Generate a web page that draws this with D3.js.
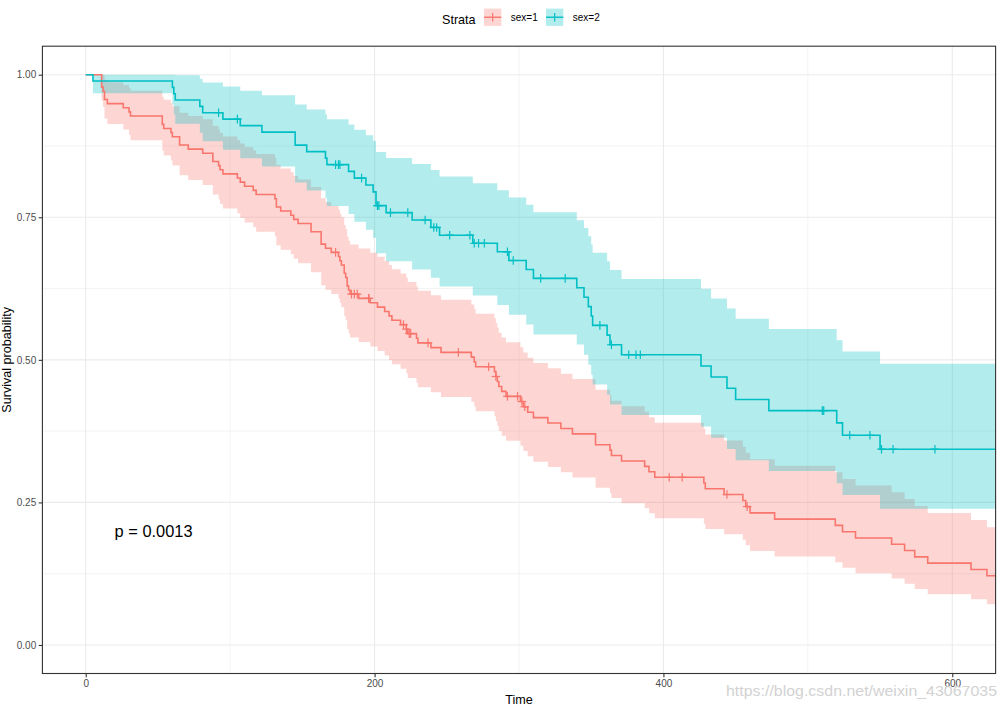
<!DOCTYPE html>
<html>
<head>
<meta charset="utf-8">
<script src="https://cdn.jsdelivr.net/npm/d3@7"></script>
<style>
  html, body { margin: 0; padding: 0; background: #fff; }
  svg { display: block; font-family: "Liberation Sans", Arial, sans-serif; }
</style>
</head>
<body>
<svg id="chart" width="1002" height="708"></svg>
<script>
// ---------- data (Kaplan-Meier estimates) ----------
const strata = ["sex=1", "sex=2"];
const colors = ["#F8766D", "#00BFC4"];

const time1 = [0, 11,12,13,15,26,30,31,53,54,59,60,65,71,81,88,92,93,95,105,107,110,116,118,131,132,135,142,144,147,156,163,166,170,175,176,177,179,180,181,182,183,189,197,202,207,210,212,218,222,223,229,230,239,246,267,269,270,283,284,285,286,288,291,301,303,306,310,320,329,337,353,363,364,371,387,390,394,428,429,442,455,457,460,477,519,524,533,558,567,574,583,613,624,643];
const surv1 = [1, 0.9783,0.9710,0.9565,0.9493,0.9420,0.9348,0.9275,0.9130,0.9058,0.8986,0.8913,0.8768,0.8696,0.8623,0.8478,0.8406,0.8333,0.8261,0.8188,0.8116,0.8043,0.7971,0.7899,0.7826,0.7681,0.7609,0.7536,0.7464,0.7391,0.7246,0.7029,0.6957,0.6884,0.6811,0.6738,0.6664,0.6518,0.6445,0.6298,0.6225,0.6152,0.6078,0.6002,0.5925,0.5848,0.5771,0.5694,0.5617,0.5539,0.5460,0.5378,0.5297,0.5214,0.5131,0.5047,0.4963,0.4879,0.4794,0.4708,0.4621,0.4534,0.4447,0.4360,0.4269,0.4177,0.4082,0.3987,0.3892,0.3797,0.3702,0.3512,0.3417,0.3322,0.3227,0.3132,0.3037,0.2942,0.2840,0.2739,0.2638,0.2533,0.2427,0.2317,0.2207,0.2097,0.1986,0.1876,0.1766,0.1656,0.1545,0.1435,0.1325,0.1214,0.1104];
const lower1 = [1, 0.9543,0.9434,0.9231,0.9134,0.9038,0.8945,0.8852,0.8672,0.8584,0.8496,0.8409,0.8237,0.8152,0.8067,0.7899,0.7817,0.7734,0.7652,0.7570,0.7489,0.7408,0.7328,0.7248,0.7167,0.7008,0.6930,0.6850,0.6772,0.6694,0.6538,0.6306,0.6230,0.6153,0.6076,0.5999,0.5922,0.5769,0.5693,0.5541,0.5466,0.5390,0.5314,0.5236,0.5157,0.5078,0.4999,0.4921,0.4843,0.4763,0.4683,0.4600,0.4518,0.4434,0.4350,0.4265,0.4181,0.4097,0.4012,0.3926,0.3840,0.3753,0.3667,0.3582,0.3492,0.3401,0.3308,0.3215,0.3122,0.3030,0.2938,0.2756,0.2666,0.2576,0.2487,0.2398,0.2310,0.2222,0.2127,0.2034,0.1941,0.1845,0.1749,0.1649,0.1550,0.1452,0.1355,0.1259,0.1165,0.1072,0.0980,0.0890,0.0801,0.0714,0.0629];
const upper1 = [1, 1,0.9994,0.9911,0.9866,0.9818,0.9769,0.9718,0.9612,0.9559,0.9504,0.9448,0.9334,0.9277,0.9218,0.9099,0.9040,0.8979,0.8918,0.8857,0.8795,0.8733,0.8671,0.8609,0.8545,0.8418,0.8355,0.8290,0.8226,0.8161,0.8031,0.7834,0.7769,0.7702,0.7635,0.7568,0.7499,0.7364,0.7296,0.7159,0.7090,0.7021,0.6952,0.6880,0.6808,0.6735,0.6662,0.6589,0.6515,0.6441,0.6366,0.6288,0.6211,0.6132,0.6052,0.5972,0.5891,0.5810,0.5729,0.5645,0.5561,0.5477,0.5392,0.5307,0.5219,0.5130,0.5038,0.4945,0.4852,0.4758,0.4665,0.4475,0.4380,0.4284,0.4188,0.4091,0.3994,0.3896,0.3792,0.3689,0.3585,0.3478,0.3369,0.3256,0.3143,0.3028,0.2911,0.2795,0.2677,0.2558,0.2436,0.2314,0.2191,0.2065,0.1939];
const censor1 = [173,184,186,188,196,196,220,222,224,225,237,258,279,284,292,299,302,304,404,413,444,458];

const time2 = [0, 5,60,61,62,79,81,95,107,122,145,153,166,167,182,186,194,199,201,208,226,239,245,268,285,293,305,310,340,345,348,350,351,361,363,371,426,433,444,450,473,520,524,550,641];
const surv2 = [1, 0.9889,0.9778,0.9667,0.9556,0.9444,0.9333,0.9221,0.9107,0.8993,0.8766,0.8652,0.8538,0.8424,0.8305,0.8187,0.8066,0.7946,0.7705,0.7581,0.7452,0.7322,0.7186,0.7045,0.6895,0.6742,0.6585,0.6428,0.6264,0.6099,0.5934,0.5769,0.5604,0.5434,0.5265,0.5089,0.4893,0.4698,0.4502,0.4306,0.4110,0.3894,0.3678,0.3433,0.3121];
const lower2 = [1, 0.9675,0.9478,0.9303,0.9140,0.8982,0.8832,0.8683,0.8535,0.8390,0.8109,0.7970,0.7834,0.7699,0.7558,0.7420,0.7280,0.7142,0.6869,0.6729,0.6584,0.6438,0.6287,0.6129,0.5961,0.5791,0.5618,0.5446,0.5267,0.5089,0.4913,0.4739,0.4566,0.4389,0.4215,0.4035,0.3832,0.3632,0.3435,0.3241,0.3050,0.2837,0.2629,0.2390,0.2076];
const upper2 = [1, 1,1,1,0.9991,0.9929,0.9863,0.9792,0.9717,0.9639,0.9477,0.9392,0.9305,0.9217,0.9125,0.9033,0.8937,0.8841,0.8643,0.8541,0.8435,0.8327,0.8214,0.8098,0.7975,0.7849,0.7719,0.7587,0.7450,0.7310,0.7168,0.7024,0.6878,0.6727,0.6576,0.6419,0.6248,0.6076,0.5900,0.5721,0.5539,0.5345,0.5146,0.4931,0.4691];
const censor2 = [92,105,173,175,176,191,202,203,211,223,235,241,243,252,266,269,272,276,292,296,315,332,356,364,376,381,384,510,511,529,543,551,559,588];

const lastTime = [1022, 965];

const xTicks = [0, 200, 400, 600];
const xMinor = [100, 300, 500];
const yTicks = [0, 0.25, 0.5, 0.75, 1];
const yMinor = [0.125, 0.375, 0.625, 0.875];
const pLabel = "p = 0.0013";
const pPos = [20, 0.2];
const watermark = "https://blog.csdn.net/weixin_43067035";

// ---------- layout ----------
const svg = d3.select("#chart");
const x = d3.scaleLinear().domain([-30, 630]).range([42.4, 995.6]);
const y = d3.scaleLinear().domain([-0.05, 1.05]).range([673.5, 46.2]);
const [px0, px1] = x.range();
const [py1, py0] = y.range();

svg.append("defs").append("clipPath").attr("id", "panel")
  .append("rect").attr("x", px0).attr("y", py0).attr("width", px1 - px0).attr("height", py1 - py0);

// grid
const grid = svg.append("g");
grid.selectAll(".xmin").data(xMinor).join("line")
  .attr("x1", d => x(d)).attr("x2", d => x(d)).attr("y1", py0).attr("y2", py1)
  .attr("stroke", "#EBEBEB").attr("stroke-width", 0.6);
grid.selectAll(".ymin").data(yMinor).join("line")
  .attr("y1", d => y(d)).attr("y2", d => y(d)).attr("x1", px0).attr("x2", px1)
  .attr("stroke", "#EBEBEB").attr("stroke-width", 0.6);
grid.selectAll(".xmaj").data(xTicks).join("line")
  .attr("x1", d => x(d)).attr("x2", d => x(d)).attr("y1", py0).attr("y2", py1)
  .attr("stroke", "#EBEBEB").attr("stroke-width", 1.1);
grid.selectAll(".ymaj").data(yTicks).join("line")
  .attr("y1", d => y(d)).attr("y2", d => y(d)).attr("x1", px0).attr("x2", px1)
  .attr("stroke", "#EBEBEB").attr("stroke-width", 1.1);

// series
const series = [
  { t: time1, s: surv1, lo: lower1, up: upper1, c: censor1, end: lastTime[0], col: colors[0] },
  { t: time2, s: surv2, lo: lower2, up: upper2, c: censor2, end: lastTime[1], col: colors[1] }
];
series.forEach(sr => {
  sr.pts = sr.t.map((t, i) => ({ t, s: sr.s[i], lo: sr.lo[i], up: sr.up[i] }));
  const last = sr.pts[sr.pts.length - 1];
  sr.pts.push({ t: sr.end, s: last.s, lo: last.lo, up: last.up });
});

const plot = svg.append("g").attr("clip-path", "url(#panel)");
const area = d3.area().curve(d3.curveStepAfter)
  .x(d => x(d.t)).y0(d => y(d.lo)).y1(d => y(d.up));
const line = d3.line().curve(d3.curveStepAfter)
  .x(d => x(d.t)).y(d => y(d.s));

series.forEach(sr => {
  plot.append("path").attr("d", area(sr.pts)).attr("fill", sr.col).attr("fill-opacity", 0.3);
});
series.forEach(sr => {
  plot.append("path").attr("d", line(sr.pts)).attr("fill", "none")
    .attr("stroke", sr.col).attr("stroke-width", 1.6);
});
// censor marks
series.forEach(sr => {
  const g = plot.append("g").attr("stroke", sr.col).attr("stroke-width", 1.2);
  sr.c.forEach(ct => {
    const i = d3.bisectRight(sr.t, ct) - 1;
    const cx = x(ct), cy = y(sr.s[i]);
    g.append("line").attr("x1", cx - 4.3).attr("x2", cx + 4.3).attr("y1", cy).attr("y2", cy);
    g.append("line").attr("x1", cx).attr("x2", cx).attr("y1", cy - 4.3).attr("y2", cy + 4.3);
  });
});

// p-value
svg.append("text").attr("x", x(pPos[0])).attr("y", y(pPos[1]) + 6)
  .attr("font-size", 16.4).attr("fill", "#000").text(pLabel);

// panel border
svg.append("rect").attr("x", px0).attr("y", py0).attr("width", px1 - px0).attr("height", py1 - py0)
  .attr("fill", "none").attr("stroke", "#333333").attr("stroke-width", 1.1);

// axes
const xAxis = d3.axisBottom(x).tickValues(xTicks).tickSize(3.7).tickPadding(2.5).tickFormat(d3.format("d"));
const yAxis = d3.axisLeft(y).tickValues(yTicks).tickSize(3.7).tickPadding(2.5).tickFormat(d3.format(".2f"));
const gx = svg.append("g").attr("transform", `translate(0,${py1})`).call(xAxis);
const gy = svg.append("g").attr("transform", `translate(${px0},0)`).call(yAxis);
[gx, gy].forEach(g => {
  g.select(".domain").remove();
  g.selectAll(".tick line").attr("stroke", "#333333").attr("stroke-width", 1.1);
  g.selectAll(".tick text").attr("fill", "#4D4D4D").attr("font-size", 10)
    .attr("font-family", "Liberation Sans, Arial, sans-serif");
});

// axis titles
svg.append("text").attr("x", (px0 + px1) / 2).attr("y", 703.5).attr("text-anchor", "middle")
  .attr("font-size", 12.6).attr("fill", "#000").text("Time");
svg.append("text").attr("transform", `translate(11,${(py0 + py1) / 2}) rotate(-90)`)
  .attr("text-anchor", "middle").attr("font-size", 12.6).attr("fill", "#000").text("Survival probability");

// legend
const lg = svg.append("g");
lg.append("text").attr("x", 442).attr("y", 23.6).attr("font-size", 12.6).attr("fill", "#000").text("Strata");
const keyX = [484, 546];
strata.forEach((name, i) => {
  const kx = keyX[i], ky = 8.6, ks = 17.3;
  lg.append("rect").attr("x", kx).attr("y", ky).attr("width", ks).attr("height", ks)
    .attr("fill", colors[i]).attr("fill-opacity", 0.3);
  lg.append("line").attr("x1", kx).attr("x2", kx + ks).attr("y1", ky + ks / 2).attr("y2", ky + ks / 2)
    .attr("stroke", colors[i]).attr("stroke-width", 1.4);
  lg.append("line").attr("x1", kx + ks / 2).attr("x2", kx + ks / 2).attr("y1", ky + ks / 2 - 4.3).attr("y2", ky + ks / 2 + 4.3)
    .attr("stroke", colors[i]).attr("stroke-width", 1.2);
  lg.append("text").attr("x", kx + ks + 9.5).attr("y", 21).attr("font-size", 10).attr("fill", "#000").text(name);
});

// watermark
svg.append("text").attr("x", 726).attr("y", 695.5).attr("font-size", 15)
  .attr("textLength", 271).attr("lengthAdjust", "spacingAndGlyphs")
  .attr("fill", "#d2d2d2").text(watermark);
</script>
</body>
</html>
